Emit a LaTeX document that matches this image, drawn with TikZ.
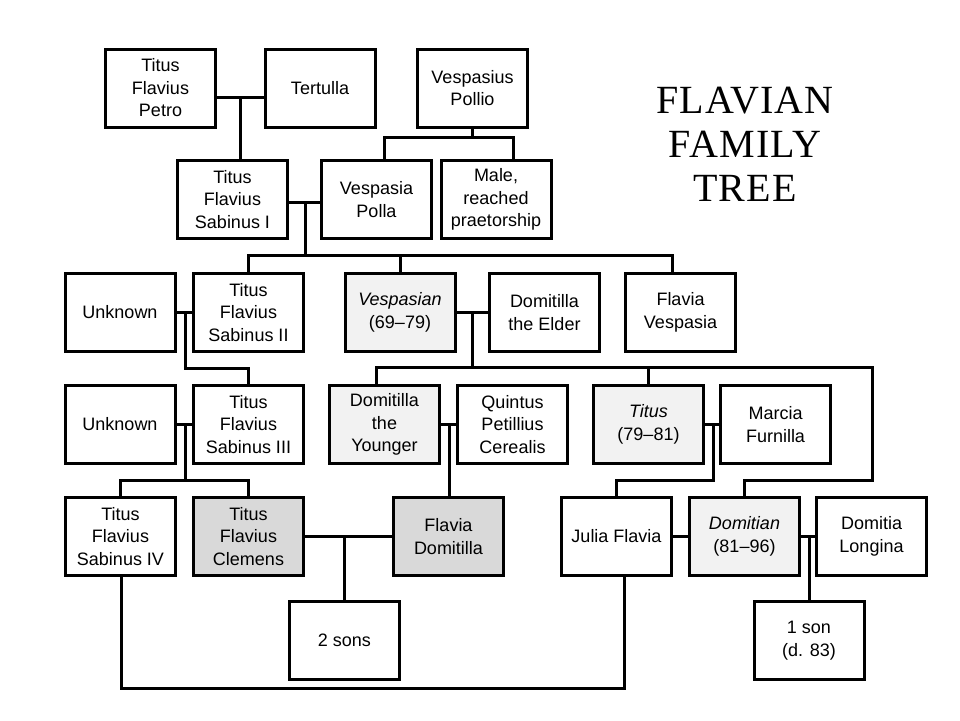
\documentclass[tikz,border=0pt]{standalone}
\usepackage{fontspec}
\setmainfont{Liberation Sans}
\newfontfamily\titlefont[LetterSpace=3]{Liberation Serif}
\definecolor{rulergray}{HTML}{F2F2F2}
\definecolor{heirgray}{HTML}{D9D9D9}

\begin{document}
\begin{tikzpicture}[
	x=1pt, y=-1pt,
	person/.style={ draw, line width=3pt, minimum width=110pt, minimum height=78pt, inner sep=2pt, align=center, font=\fontsize{18}{22.5}\selectfont },
	emperor/.style={ person, fill=rulergray },
	heir/.style={ person, fill=heirgray },
	kin/.style={ line width=3pt }
]

\useasboundingbox (0,0) rectangle (960,720);

\node[font=\titlefont\fontsize{40}{44}\selectfont, align=center] at (745,144) (title) {FLAVIAN\\FAMILY\\TREE};

\begin{scope}
	\node[person] at (160.5,88) (petro) {Titus\\Flavius\\Petro};
	\node[person] at (320,88) (tertulla) {Tertulla};
	\node[person] at (472.5,88) (pollio) {Vespasius\\Pollio};

	\node[person] at (232.5,199.5) (sabinusa) {Titus\\Flavius\\Sabinus I};
	\node[person] at (376.5,199.5) (polla) {Vespasia\\Polla};
	\node[person] at (496,199.5) (praetor) {Male,\\reached\\praetorship};

	\node[person] at (120,312.5) (unknowna) {Unknown};
	\node[person] at (248.5,312.5) (sabinusb) {Titus\\Flavius\\Sabinus II};
	\node[emperor] at (400,312.5) (vespasian) {\textit{Vespasian}\\(69–79)};
	\node[person] at (544.5,312.5) (domelder) {Domitilla\\the Elder};
	\node[person] at (680.5,312.5) (flavvesp) {Flavia\\Vespasia};

	\node[person] at (120,424.5) (unknownb) {Unknown};
	\node[person] at (248.5,424.5) (sabinusc) {Titus\\Flavius\\Sabinus III};
	\node[emperor] at (384.5,424.5) (domyounger) {Domitilla\\the\\Younger};
	\node[person] at (512.5,424.5) (cerealis) {Quintus\\Petillius\\Cerealis};
	\node[emperor] at (648.5,424.5) (titus) {\textit{Titus}\\(79–81)};
	\node[person] at (775.5,424.5) (furnilla) {Marcia\\Furnilla};

	\node[person] at (120.5,536.5) (sabinusd) {Titus\\Flavius\\Sabinus IV};
	\node[heir] at (248.5,536.5) (clemens) {Titus\\Flavius\\Clemens};
	\node[heir] at (448.5,536.5) (flavdom) {Flavia\\Domitilla};
	\node[person] at (616.5,536.5) (julia) {Julia Flavia};
	\node[emperor] at (744.5,536.5) (domitian) {\textit{Domitian}\\(81–96)};
	\node[person] at (871.5,536.5) (longina) {Domitia\\Longina};

	\node[person] at (344.5,640.5) (twosons) {2 sons};
	\node[person] at (809,640.5) (oneson) {1 son\\(d. 83)};
\end{scope}

\begin{scope}
	\coordinate (wedpetro) at (240.5,97);
	\draw[kin] (petro.east |- wedpetro) to (tertulla.west |- wedpetro);
	\draw[kin] (wedpetro) to (wedpetro |- sabinusa.north);

	\coordinate (pollbar) at (472.5,137);
	\coordinate (pollleft) at (384,137);
	\coordinate (pollright) at (513,137);
	\draw[kin] (pollio.south) to (pollbar);
	\draw[kin] (pollleft |- polla.north) to (pollleft) to (pollright) to (pollright |- praetor.north);

	\coordinate (wedsabinus) at (305,202);
	\coordinate (sibbar) at (305,255);
	\coordinate (vespdrop) at (672,255);
	\draw[kin] (sabinusa.east |- wedsabinus) to (polla.west |- wedsabinus);
	\draw[kin] (wedsabinus) to (sibbar);
	\draw[kin] (sabinusb.north) to (sabinusb.north |- sibbar) to (vespdrop) to (vespdrop |- flavvesp.north);
	\draw[kin] (vespasian.north |- sibbar) to (vespasian.north);

	\coordinate (wedunknowna) at (185,312.5);
	\coordinate (sabbar) at (185,368);
	\draw[kin] (unknowna.east) to (sabinusb.west);
	\draw[kin] (wedunknowna) to (sabbar) to (sabinusc.north |- sabbar) to (sabinusc.north);

	\coordinate (wedvesp) at (472,312.5);
	\coordinate (vespbar) at (472,367);
	\coordinate (dyleft) at (376,367);
	\coordinate (vespright) at (872,367);
	\coordinate (domitbar) at (872,480);
	\draw[kin] (vespasian.east) to (domelder.west);
	\draw[kin] (wedvesp) to (vespbar);
	\draw[kin] (dyleft |- domyounger.north) to (dyleft) to (vespright) to (domitbar) to (domitian.north |- domitbar) to (domitian.north);
	\draw[kin] (titus.north |- vespbar) to (titus.north);

	\coordinate (wedunknownb) at (185,424.5);
	\coordinate (sabbarb) at (185,480);
	\draw[kin] (unknownb.east) to (sabinusc.west);
	\draw[kin] (wedunknownb) to (sabbarb);
	\draw[kin] (sabinusd.north) to (sabinusd.north |- sabbarb) to (clemens.north |- sabbarb) to (clemens.north);

	\coordinate (wedcerealis) at (449,424.5);
	\draw[kin] (domyounger.east) to (cerealis.west);
	\draw[kin] (wedcerealis) to (wedcerealis |- flavdom.north);

	\coordinate (wedtitus) at (713,424.5);
	\coordinate (titusbar) at (713,480);
	\draw[kin] (titus.east) to (furnilla.west);
	\draw[kin] (wedtitus) to (titusbar) to (julia.north |- titusbar) to (julia.north);

	\coordinate (wedclemens) at (344,536.5);
	\draw[kin] (clemens.east) to (flavdom.west);
	\draw[kin] (wedclemens) to (wedclemens |- twosons.north);

	\draw[kin] (julia.east) to (domitian.west);

	\coordinate (weddomitian) at (809,536.5);
	\draw[kin] (domitian.east) to (longina.west);
	\draw[kin] (weddomitian) to (oneson.north);

	\coordinate (sabinusbottom) at (121,688);
	\coordinate (juliabottom) at (624,688);
	\draw[kin] (sabinusbottom |- sabinusd.south) to (sabinusbottom) to (juliabottom) to (juliabottom |- julia.south);
\end{scope}

\end{tikzpicture}
\end{document}
